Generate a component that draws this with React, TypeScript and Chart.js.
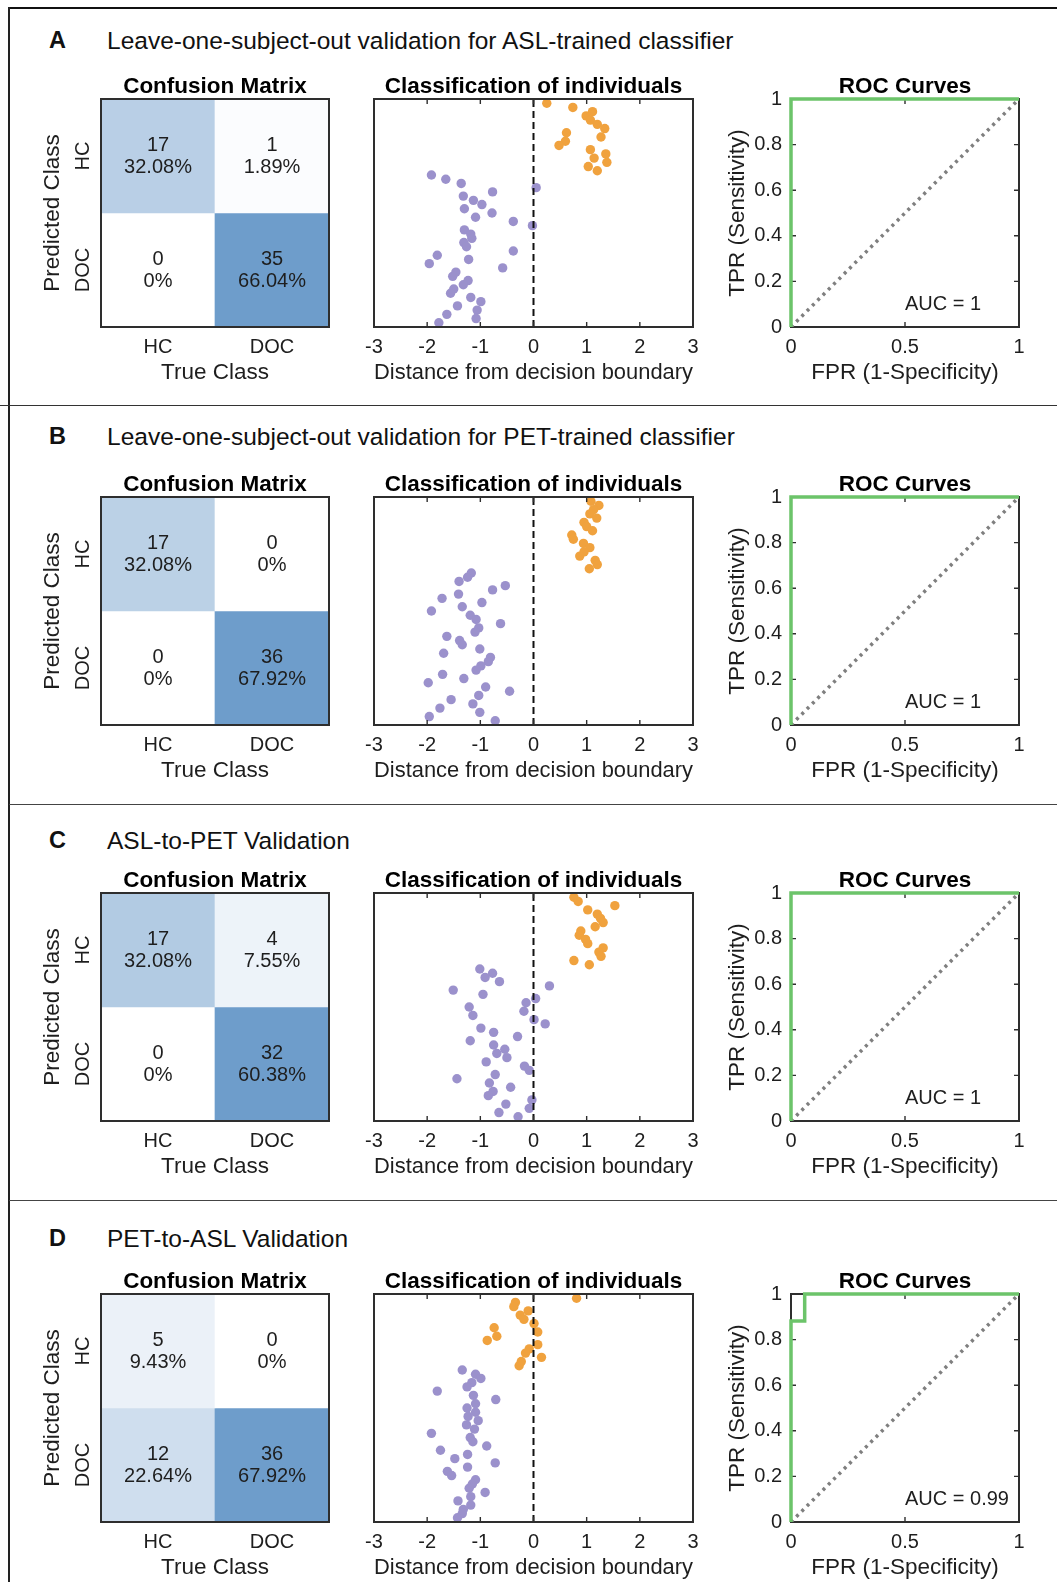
import React, { useEffect, useRef } from 'react';
import { Chart, registerables } from 'chart.js';
Chart.register(...registerables);

// ---------------- data ----------------
const panelLetters = ['A', 'B', 'C', 'D'];
const panelTitles = [
  'Leave-one-subject-out validation for ASL-trained classifier',
  'Leave-one-subject-out validation for PET-trained classifier',
  'ASL-to-PET Validation',
  'PET-to-ASL Validation',
];
const trueClassLabels = ['HC', 'DOC'];
const predictedClassLabels = ['HC', 'DOC'];

// rows: predicted HC, predicted DOC ; cols: true HC, true DOC
const cmA = [[17, 1], [0, 35]];
const cmB = [[17, 0], [0, 36]];
const cmC = [[17, 4], [0, 32]];
const cmD = [[5, 0], [12, 36]];

// distance from decision boundary, listed top to bottom
const hcA = [0.25, 0.74, 1.11, 0.99, 1.07, 1.2, 1.34, 0.62, 1.27, 0.6, 0.48, 1.07, 1.36, 1.14, 1.38, 1.03, 1.2];
const docA = [-1.92, -1.65, -1.36, 0.05, -0.77, -1.32, -1.13, -0.97, -1.3, -0.78, -1.09, -0.38, -0.02, -1.3, -1.18, -1.16, -1.31, -1.26, -0.38, -1.81, -1.22, -1.96, -0.58, -1.46, -1.52, -1.23, -1.32, -1.5, -1.56, -1.18, -0.99, -1.43, -1.06, -1.63, -1.08, -1.78];
const hcB = [1.08, 1.23, 1.13, 1.06, 1.19, 0.95, 1.0, 1.11, 0.72, 0.75, 0.94, 1.06, 0.95, 0.87, 1.16, 1.2, 1.05];
const docB = [-1.17, -1.24, -1.4, -0.53, -0.77, -1.41, -1.72, -0.97, -1.34, -1.92, -1.19, -1.08, -0.62, -1.03, -1.1, -1.63, -1.39, -1.34, -1.01, -1.69, -0.81, -0.85, -0.99, -1.08, -1.71, -1.31, -1.98, -0.9, -0.45, -1.03, -1.55, -1.14, -1.76, -1.01, -1.96, -0.72];
const hcC = [0.76, 0.84, 1.53, 1.02, 1.2, 1.26, 1.31, 1.16, 0.89, 0.86, 0.98, 1.02, 1.31, 1.23, 1.27, 0.76, 1.05];
const docC = [-1.01, -0.77, -0.91, -0.64, 0.3, -1.51, -0.95, 0.04, -0.14, -1.21, -0.18, -1.14, 0.01, 0.22, -0.99, -0.75, -0.3, -1.19, -0.75, -0.54, -0.69, -0.5, -0.89, -0.17, -0.08, -0.72, -1.44, -0.83, -0.43, -0.76, -0.85, -0.03, -0.52, -0.08, -0.65, -0.29];
const hcD = [0.81, -0.34, -0.37, -0.1, -0.25, -0.18, 0.01, -0.74, 0.08, -0.69, -0.87, 0.08, -0.08, -0.15, 0.15, -0.23, -0.27];
const docD = [-1.34, -1.09, -0.99, -1.16, -1.25, -1.81, -1.13, -0.71, -1.09, -1.25, -1.09, -1.23, -1.04, -1.26, -1.11, -1.92, -1.19, -1.14, -0.88, -1.75, -1.24, -1.48, -0.72, -1.24, -1.62, -1.54, -1.09, -1.15, -1.21, -0.91, -1.18, -1.42, -1.18, -1.32, -1.34, -1.43];

const distanceRange = [-3, 3];
const distanceTicks = [-3, -2, -1, 0, 1, 2, 3];
const decisionBoundary = 0;

const rocFprA = [0, 0, 1];
const rocTprA = [0, 1, 1];
const rocFprB = [0, 0, 1];
const rocTprB = [0, 1, 1];
const rocFprC = [0, 0, 1];
const rocTprC = [0, 1, 1];
const rocFprD = [0, 0, 0.06, 0.06, 1];
const rocTprD = [0, 0.882, 0.882, 1, 1];
const aucValues = ['1', '1', '1', '0.99'];
const rocXTicks = [0, 0.5, 1];
const rocYTicks = [0, 0.2, 0.4, 0.6, 0.8, 1];

const panels = [
  { cm: cmA, hc: hcA, doc: docA, fpr: rocFprA, tpr: rocTprA },
  { cm: cmB, hc: hcB, doc: docB, fpr: rocFprB, tpr: rocTprB },
  { cm: cmC, hc: hcC, doc: docC, fpr: rocFprC, tpr: rocTprC },
  { cm: cmD, hc: hcD, doc: docD, fpr: rocFprD, tpr: rocTprD },
];

// ---------------- styles / layout ----------------
const FONT = '"Liberation Sans", Arial, Helvetica, sans-serif';
const TXT = '#1e1e1e';
const BOX_TOPS = [99, 497, 893, 1294];
const TITLE_CY = [42, 437.5, 841.5, 1239.5];
const BOX_H = 228;
const ORANGE = '#f0a23e';
const PURPLE = '#9b91cc';
const GREEN = '#6cc46a';

Chart.defaults.font.family = FONT;
Chart.defaults.color = TXT;

const framePlugin = {
  id: 'frame',
  beforeDatasetsDraw(chart: any, _a: any, opts: any) {
    if (opts.under) drawFrame(chart, opts);
  },
  afterDatasetsDraw(chart: any, _a: any, opts: any) {
    if (!opts.under) drawFrame(chart, opts);
  },
};

function drawFrame(chart: any, opts: any) {
  const { ctx, chartArea: a, scales } = chart;
  ctx.save();
  ctx.strokeStyle = '#2e2e2e';
  ctx.lineWidth = 1.4;
  ctx.beginPath();
  const L = 5;
  (opts.xTicks || []).forEach((v: number) => {
    const px = scales.x.getPixelForValue(v);
    ctx.moveTo(px, a.bottom); ctx.lineTo(px, a.bottom - L);
    ctx.moveTo(px, a.top); ctx.lineTo(px, a.top + L);
  });
  (opts.yTicks || []).forEach((v: number) => {
    const py = scales.y.getPixelForValue(v);
    ctx.moveTo(a.left, py); ctx.lineTo(a.left + L, py);
    ctx.moveTo(a.right, py); ctx.lineTo(a.right - L, py);
  });
  ctx.stroke();
  ctx.lineWidth = 2;
  ctx.strokeRect(a.left, a.top, a.right - a.left, a.bottom - a.top);
  ctx.restore();
}

const cellTextPlugin = {
  id: 'cellText',
  afterDatasetsDraw(chart: any, _a: any, opts: any) {
    const { ctx, chartArea: a, scales } = chart;
    const counts: number[][] = opts.counts;
    const total = counts.flat().reduce((s, v) => s + v, 0);
    ctx.save();
    ctx.fillStyle = TXT;
    ctx.font = `20px ${FONT}`;
    ctx.textAlign = 'center';
    ctx.textBaseline = 'middle';
    chart.data.datasets.forEach((_ds: any, di: number) => {
      const meta = chart.getDatasetMeta(di);
      meta.data.forEach((el: any, j: number) => {
        const p = el.getProps(['x', 'y', 'base'], true);
        const cy = (p.y + p.base) / 2;
        const c = counts[di][j];
        const pct = c === 0 ? '0%' : (100 * c / total).toFixed(2) + '%';
        ctx.fillText(String(c), p.x, cy - 11);
        ctx.fillText(pct, p.x, cy + 11.5);
      });
    });
    // rotated predicted-class tick labels
    const n = predictedClassLabels.length;
    predictedClassLabels.forEach((lab, i) => {
      const py = scales.y.getPixelForValue(n - i - 0.5);
      ctx.save();
      ctx.translate(a.left - 18, py);
      ctx.rotate(-Math.PI / 2);
      ctx.fillText(lab, 0, 0);
      ctx.restore();
    });
    ctx.restore();
  },
};

const aucPlugin = {
  id: 'auc',
  afterDatasetsDraw(chart: any, _a: any, opts: any) {
    const { ctx, scales } = chart;
    ctx.save();
    ctx.fillStyle = TXT;
    ctx.font = `20px ${FONT}`;
    ctx.textAlign = 'left';
    ctx.textBaseline = 'middle';
    ctx.fillText('AUC = ' + opts.value, scales.x.getPixelForValue(0.5), scales.y.getPixelForValue(0.1));
    ctx.restore();
  },
};

const titleOpts = (text: string) => ({
  display: true,
  text,
  color: '#000',
  font: { size: 22.5, weight: 'bold', lineHeight: '24px' },
  padding: 0,
  fullSize: false,
});

const plainTick = (v: any) => String(Number(v));

const bottomAxisBase = (title: string) => ({
  grid: { display: false, drawTicks: false },
  border: { display: false },
  ticks: { font: { size: 20, lineHeight: '24px' }, padding: 8, color: TXT },
  title: { display: true, text: title, color: TXT, font: { size: 22.5, lineHeight: '26px' }, padding: { top: 0, bottom: 3 } },
  afterFit: (s: any) => { s.height = 62; },
});

function cmConfig(counts: number[][]): any {
  const max = Math.max(...counts.flat());
  const shade = (v: number) => {
    const t = v / max;
    const r = Math.round(255 + (110 - 255) * t);
    const g = Math.round(255 + (157 - 255) * t);
    const b = Math.round(255 + (203 - 255) * t);
    return `rgb(${r},${g},${b})`;
  };
  const n = predictedClassLabels.length;
  return {
    type: 'bar',
    data: {
      labels: trueClassLabels,
      datasets: predictedClassLabels.map((lab, i) => ({
        label: lab,
        data: trueClassLabels.map(() => [n - i - 1, n - i]),
        backgroundColor: counts[i].map(shade),
        borderWidth: 0,
        barPercentage: 1,
        categoryPercentage: 1,
      })),
    },
    options: {
      animation: false,
      responsive: false,
      layout: { padding: { left: 0, right: 15, top: 0, bottom: 0 } },
      plugins: {
        legend: { display: false },
        tooltip: { enabled: false },
        title: titleOpts('Confusion Matrix'),
        frame: { under: false },
        cellText: { counts },
      },
      scales: {
        x: { type: 'category', stacked: true, ...bottomAxisBase('True Class') },
        y: {
          type: 'linear', min: 0, max: n,
          grid: { display: false, drawTicks: false }, border: { display: false },
          ticks: { display: false },
          title: { display: true, text: 'Predicted Class', color: TXT, font: { size: 22.5, lineHeight: '26px' }, padding: { top: 19.5, bottom: 0 } },
          afterFit: (s: any) => { s.width = 81; },
        },
      },
    },
    plugins: [framePlugin, cellTextPlugin],
  };
}

function scatterConfig(hc: number[], doc: number[]): any {
  const nTotal = hc.length + doc.length;
  const hcPts = hc.map((x, i) => ({ x, y: nTotal - i }));
  const docPts = doc.map((x, i) => ({ x, y: doc.length - i }));
  return {
    type: 'scatter',
    data: {
      datasets: [
        {
          type: 'line',
          data: [{ x: decisionBoundary, y: 0 }, { x: decisionBoundary, y: nTotal + 1 }],
          borderColor: '#111',
          borderWidth: 2,
          borderDash: [7, 4],
          pointRadius: 0,
          fill: false,
        },
        { data: hcPts, backgroundColor: ORANGE, borderWidth: 0, pointRadius: 4.7, clip: false },
        { data: docPts, backgroundColor: PURPLE, borderWidth: 0, pointRadius: 4.7, clip: false },
      ],
    },
    options: {
      animation: false,
      responsive: false,
      layout: { padding: { left: 20, right: 15, top: 0, bottom: 0 } },
      plugins: {
        legend: { display: false },
        tooltip: { enabled: false },
        title: titleOpts('Classification of individuals'),
        frame: { under: false, xTicks: distanceTicks.slice(1, -1) },
      },
      scales: {
        x: {
          type: 'linear', min: distanceRange[0], max: distanceRange[1],
          afterBuildTicks: (ax: any) => { ax.ticks = distanceTicks.map((v) => ({ value: v })); },
          ...bottomAxisBase('Distance from decision boundary'),
        },
        y: { type: 'linear', min: 0, max: nTotal + 1, display: false },
      },
    },
    plugins: [framePlugin],
  };
}

function rocConfig(fpr: number[], tpr: number[], auc: string): any {
  const xAxis: any = bottomAxisBase('FPR (1-Specificity)');
  xAxis.ticks = { ...xAxis.ticks, callback: plainTick };
  return {
    type: 'scatter',
    data: {
      datasets: [
        {
          data: fpr.map((x, i) => ({ x, y: tpr[i] })),
          showLine: true, borderColor: GREEN, borderWidth: 3.5, pointRadius: 0, clip: false, fill: false,
        },
        {
          data: [{ x: 0, y: 0 }, { x: 1, y: 1 }],
          showLine: true, borderColor: '#7f7f7f', borderWidth: 3.5, borderDash: [3, 4.5], pointRadius: 0, fill: false,
        },
      ],
    },
    options: {
      animation: false,
      responsive: false,
      layout: { padding: { left: 0, right: 15, top: 0, bottom: 0 } },
      plugins: {
        legend: { display: false },
        tooltip: { enabled: false },
        title: titleOpts('ROC Curves'),
        frame: { under: true, xTicks: [0.5], yTicks: [0.2, 0.4, 0.6, 0.8] },
        auc: { value: auc },
      },
      scales: {
        x: {
          type: 'linear', min: 0, max: 1,
          afterBuildTicks: (ax: any) => { ax.ticks = rocXTicks.map((v) => ({ value: v })); },
          ...xAxis,
        },
        y: {
          type: 'linear', min: 0, max: 1,
          afterBuildTicks: (ax: any) => { ax.ticks = rocYTicks.map((v) => ({ value: v })); },
          grid: { display: false, drawTicks: false }, border: { display: false },
          ticks: { font: { size: 20, lineHeight: '24px' }, padding: 9, color: TXT, callback: plainTick },
          title: { display: true, text: 'TPR (Sensitivity)', color: TXT, font: { size: 22.5, lineHeight: '26px' }, padding: { top: 17, bottom: 0 } },
          afterFit: (s: any) => { s.width = 83; },
        },
      },
    },
    plugins: [framePlugin, aucPlugin],
  };
}

function ChartBox(props: { left: number; top: number; width: number; height: number; make: () => any }) {
  const ref = useRef<HTMLCanvasElement>(null);
  useEffect(() => {
    const chart = new Chart(ref.current as HTMLCanvasElement, props.make());
    return () => chart.destroy();
  }, []);
  return (
    <canvas
      ref={ref}
      width={props.width}
      height={props.height}
      style={{ position: 'absolute', left: props.left, top: props.top, width: props.width, height: props.height }}
    />
  );
}

export default function App() {
  const line = (s: any) => <div style={{ position: 'absolute', ...s }} />;
  return (
    <div style={{ position: 'absolute', left: 0, top: 0, width: 1057, height: 1582, background: '#fff', overflow: 'hidden' }}>
      {line({ left: 9, top: 6.5, width: 1048, height: 2.3, background: '#111' })}
      {line({ left: 8.2, top: 6.5, width: 1.7, height: 1580, background: '#222' })}
      {line({ left: 0, top: 404.5, width: 1057, height: 1.3, background: '#333' })}
      {line({ left: 9, top: 803.5, width: 1048, height: 1.3, background: '#444' })}
      {line({ left: 9, top: 1199.5, width: 1048, height: 1.3, background: '#444' })}
      {panels.map((p, k) => {
        const T = BOX_TOPS[k];
        const cTop = T - 24;
        const cH = 24 + BOX_H + 62;
        return (
          <React.Fragment key={panelLetters[k]}>
            <div style={{ position: 'absolute', left: 49, top: TITLE_CY[k] - 15, height: 30, lineHeight: '30px', font: `bold 23.5px ${FONT}`, color: '#111', whiteSpace: 'nowrap' }}>
              {panelLetters[k]}
            </div>
            <div style={{ position: 'absolute', left: 107, top: TITLE_CY[k] - 15, height: 30, lineHeight: '30px', font: `24.5px ${FONT}`, color: '#111', whiteSpace: 'nowrap' }}>
              {panelTitles[k]}
            </div>
            <ChartBox left={20} top={cTop} width={324} height={cH} make={() => cmConfig(p.cm)} />
            <ChartBox left={354} top={cTop} width={354} height={cH} make={() => scatterConfig(p.hc, p.doc)} />
            <ChartBox left={708} top={cTop} width={326} height={cH} make={() => rocConfig(p.fpr, p.tpr, aucValues[k])} />
          </React.Fragment>
        );
      })}
    </div>
  );
}
